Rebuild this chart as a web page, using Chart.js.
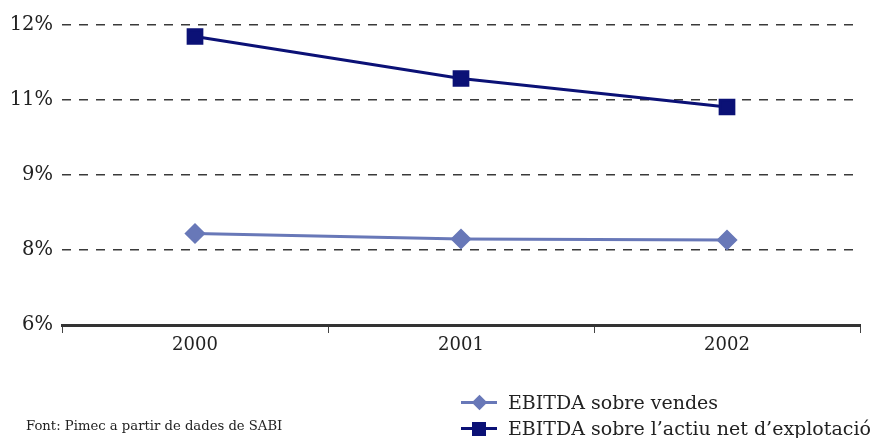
<!DOCTYPE html>
<html lang="ca">
<head>
    <meta charset="UTF-8">
    <title>EBITDA</title>
    <script src="https://cdn.jsdelivr.net/npm/chart.js"></script>
    <style>
        html, body { margin: 0; padding: 0; background: #fff; }
        #wrap { position: relative; width: 877px; height: 438px; font-family: "DejaVu Serif", serif; color: #222; }
        #grafic { position: absolute; left: 0; top: 0; }
        .font { position: absolute; left: 26px; top: 418px; font-size: 13.2px; }
        .llegenda { position: absolute; left: 461px; top: 389px; font-size: 19px; }
        .item { position: relative; height: 26px; line-height: 26px; padding-left: 47px; white-space: nowrap; }
        .item .linia { position: absolute; left: 0; top: 12px; width: 36px; height: 3px; }
        .item .marca { position: absolute; }
    </style>
</head>
<body>
<div id="wrap">
    <canvas id="grafic" width="877" height="438"></canvas>
    <div class="llegenda" id="llegenda"></div>
    <div class="font">Font: Pimec a partir de dades de SABI</div>
</div>
<script>
    const anys = ['2000', '2001', '2002'];
    const ebitdaVendes = [7.83, 7.72, 7.70];
    const ebitdaActiu = [11.77, 10.93, 10.36];
    const valorsEixY = [6, 7.5, 9, 10.5, 12];
    const etiquetesEixY = ['6%', '8%', '9%', '11%', '12%'];
    const noms = ['EBITDA sobre vendes', 'EBITDA sobre l\u2019actiu net d\u2019explotaci\u00f3'];
    const colors = ['#6878b8', '#0b1176'];

    let ctx = document.getElementById('grafic').getContext('2d');
    let chart = new Chart(ctx, {
        type: 'line',
        data: {
            labels: anys,
            datasets: [
                { label: noms[0], data: ebitdaVendes, borderColor: colors[0], backgroundColor: colors[0],
                  borderWidth: 3, pointStyle: 'rectRot', pointRadius: 8.5, pointHoverRadius: 8.5, tension: 0 },
                { label: noms[1], data: ebitdaActiu, borderColor: colors[1], backgroundColor: colors[1],
                  borderWidth: 3, pointStyle: 'rect', pointRadius: 9.7, pointHoverRadius: 9.7, tension: 0 }
            ]
        },
        options: {
            responsive: false,
            animation: false,
            layout: { padding: { top: 25, right: 17, left: 0, bottom: 0 } },
            plugins: { legend: { display: false }, tooltip: { enabled: false } },
            scales: {
                x: {
                    offset: true,
                    grid: { offset: true, drawOnChartArea: false, drawTicks: true, tickLength: 8, color: '#444', lineWidth: 1 },
                    border: { color: '#333', width: 3 },
                    ticks: { color: '#222', font: { family: '"DejaVu Serif", serif', size: 18 }, padding: 2 },
                    afterFit: s => { s.height = 438 - 325; }
                },
                y: {
                    min: 6, max: 12,
                    afterBuildTicks: s => { s.ticks = valorsEixY.map(v => ({ value: v })); },
                    afterFit: s => { s.width = 62; },
                    grid: { color: '#3a3a3a', lineWidth: 1.4, drawTicks: false },
                    border: { display: false, dash: [9, 8] },
                    ticks: {
                        color: '#222', font: { family: '"DejaVu Serif", serif', size: 19.5 }, padding: 9,
                        callback: (v, i) => etiquetesEixY[i]
                    }
                }
            }
        }
    });

    // llegenda a sota a la dreta
    const ll = document.getElementById('llegenda');
    chart.data.datasets.forEach((d, i) => {
        const item = document.createElement('div');
        item.className = 'item';
        const linia = document.createElement('div');
        linia.className = 'linia';
        linia.style.background = d.borderColor;
        const marca = document.createElement('div');
        marca.className = 'marca';
        marca.style.background = d.borderColor;
        if (i === 0) {
            Object.assign(marca.style, { width: '11px', height: '11px', left: '12.5px', top: '8px', transform: 'rotate(45deg)' });
        } else {
            Object.assign(marca.style, { width: '14px', height: '14px', left: '11px', top: '6.5px' });
        }
        item.appendChild(linia);
        item.appendChild(marca);
        item.appendChild(document.createTextNode(d.label));
        ll.appendChild(item);
    });
</script>
</body>
</html>
